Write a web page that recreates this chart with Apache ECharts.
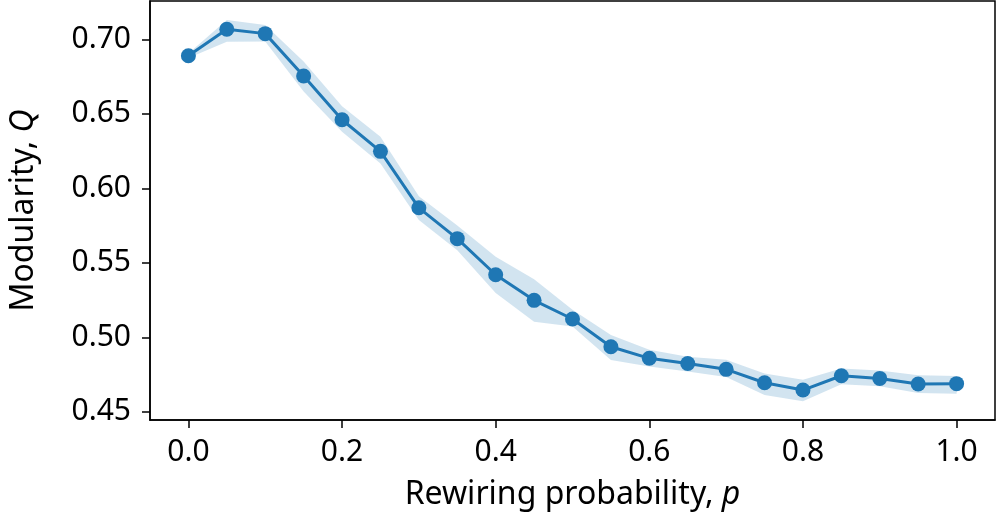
<!DOCTYPE html>
<html>
<head>
<meta charset="utf-8">
<script src="https://cdn.jsdelivr.net/npm/echarts@6/dist/echarts.min.js"></script>
<style>
html,body{margin:0;padding:0;background:#fff;}
#chart{width:996px;height:524px;}
</style>
</head>
<body>
<div id="chart"></div>
<script>
const pValues = [0.00,0.05,0.10,0.15,0.20,0.25,0.30,0.35,0.40,0.45,0.50,0.55,0.60,0.65,0.70,0.75,0.80,0.85,0.90,0.95,1.00];
const modularity = [0.6890,0.7067,0.7038,0.6754,0.6460,0.6248,0.5869,0.5662,0.5420,0.5248,0.5123,0.4937,0.4859,0.4824,0.4785,0.4695,0.4646,0.4742,0.4724,0.4687,0.4689];
const bandUpper = [0.6905,0.7129,0.7096,0.6851,0.6550,0.6346,0.5947,0.5750,0.5540,0.5389,0.5185,0.5016,0.4916,0.4870,0.4850,0.4757,0.4715,0.4790,0.4777,0.4745,0.4740];
const bandLower = [0.6875,0.6984,0.6985,0.6650,0.6380,0.6167,0.5787,0.5584,0.5297,0.5105,0.5072,0.4847,0.4804,0.4771,0.4733,0.4613,0.4570,0.4685,0.4671,0.4627,0.4622];
const xTicks = [0.0,0.2,0.4,0.6,0.8,1.0];
const yTicks = [0.45,0.50,0.55,0.60,0.65,0.70];

const blue = '#1f77b4';
const fontFam = '"Noto Sans", sans-serif';

const chart = echarts.init(document.getElementById('chart'), null, {renderer:'canvas'});
chart.setOption({
  animation:false,
  backgroundColor:'#fff',
  grid:{left:146,right:1,top:1,bottom:104,show:true,borderColor:'#000',borderWidth:1.5,backgroundColor:'transparent'},
  xAxis:{
    type:'value',min:-0.05,max:1.05,
    name:'{a|Rewiring probability, }{i|p}',
    nameLocation:'middle',nameGap:59,
    nameTextStyle:{rich:{a:{fontFamily:fontFam,fontSize:32,color:'#000'},i:{fontFamily:fontFam,fontSize:32,fontStyle:'italic',color:'#000'}}},
    axisLine:{show:true,onZero:false,lineStyle:{color:'#000',width:1.5}},
    axisTick:{show:true,inside:false,length:8,lineStyle:{color:'#000',width:1.5},customValues:xTicks},
    axisLabel:{fontFamily:fontFam,fontSize:30,color:'#000',margin:17,customValues:xTicks,formatter:v=>v.toFixed(1)},
    splitLine:{show:false}
  },
  yAxis:{
    type:'value',min:0.4445,max:0.7257,
    name:'{a|Modularity, }{i|Q}',
    nameLocation:'middle',nameGap:110,
    nameTextStyle:{rich:{a:{fontFamily:fontFam,fontSize:32,color:'#000'},i:{fontFamily:fontFam,fontSize:32,fontStyle:'italic',color:'#000'}}},
    axisLine:{show:true,onZero:false,lineStyle:{color:'#000',width:1.5}},
    axisTick:{show:true,inside:false,length:8,lineStyle:{color:'#000',width:1.5},customValues:yTicks},
    axisLabel:{fontFamily:fontFam,fontSize:30,color:'#000',margin:19,customValues:yTicks,formatter:v=>v.toFixed(2)},
    splitLine:{show:false}
  },
  series:[
    {
      type:'custom',
      silent:true,
      z:1,
      data:pValues.map((p,i)=>[p,bandLower[i],bandUpper[i]]),
      renderItem:function(params,api){
        if(params.dataIndex!==0) return null;
        const upperPts = pValues.map((p,i)=>api.coord([p,bandUpper[i]]));
        const lowerPts = pValues.map((p,i)=>api.coord([p,bandLower[i]])).reverse();
        return {type:'polygon',shape:{points:upperPts.concat(lowerPts)},style:{fill:'rgba(31,119,180,0.2)',stroke:'none'}};
      }
    },
    {
      type:'line',
      z:3,
      data:pValues.map((p,i)=>[p,modularity[i]]),
      symbol:'circle',symbolSize:15,showSymbol:true,
      lineStyle:{color:blue,width:3},
      itemStyle:{color:blue,borderWidth:0}
    }
  ]
});
</script>
</body>
</html>
